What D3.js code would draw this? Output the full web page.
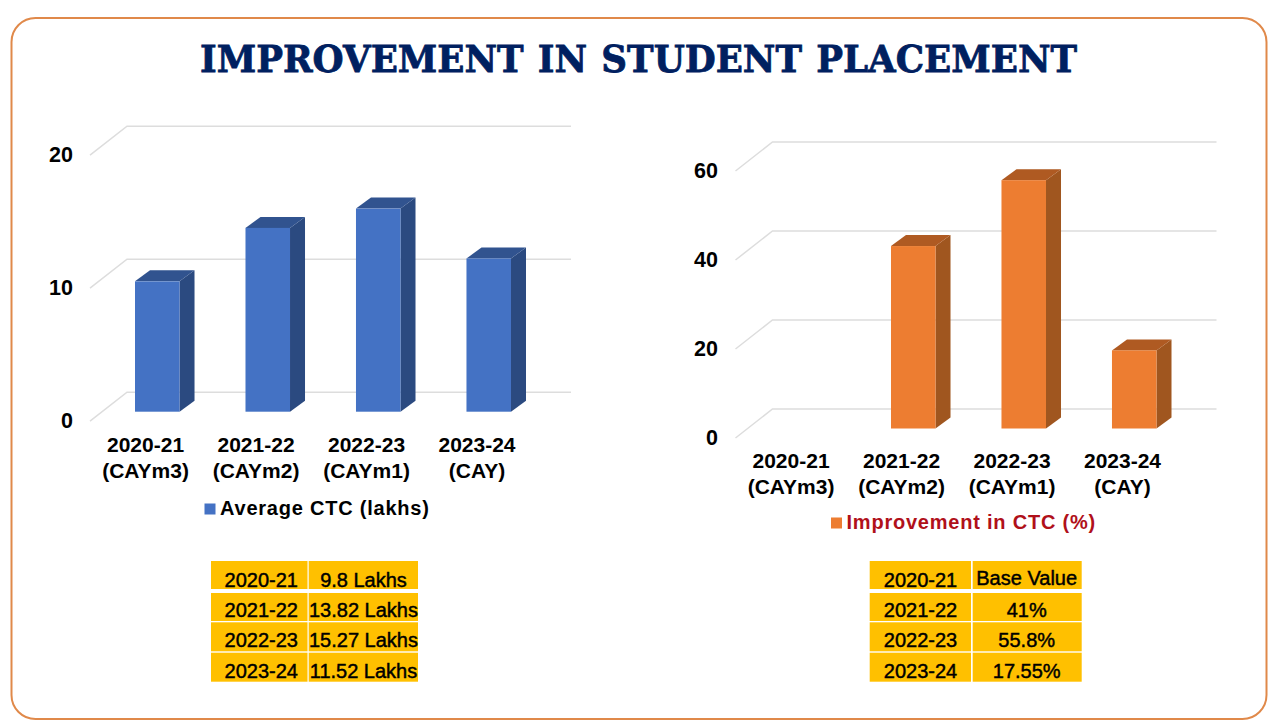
<!DOCTYPE html>
<html><head><meta charset="utf-8">
<script src="https://cdn.jsdelivr.net/npm/d3@7/dist/d3.min.js"></script>
<style>html,body{margin:0;padding:0;background:#fff}svg{display:block}text{font-family:"Liberation Sans",Arial,sans-serif}</style>
</head><body><div id="c"></div>
<script>
const categories=["2020-21","2021-22","2022-23","2023-24"];
const categorySub=["(CAYm3)","(CAYm2)","(CAYm1)","(CAY)"];
const avgCTC=[9.8,13.82,15.27,11.52];
const improvement=[null,41,55.8,17.55];
const leftTicks=[0,10,20];
const rightTicks=[0,20,40,60];
const leftTableValues=["9.8 Lakhs","13.82 Lakhs","15.27 Lakhs","11.52 Lakhs"];
const rightTableValues=["Base Value","41%","55.8%","17.55%"];

const svg=d3.select("#c").append("svg").attr("width",1280).attr("height",720);
svg.append("rect").attr("x",11.5).attr("y",18).attr("width",1255).attr("height",701).attr("rx",24)
  .attr("fill","#fff").attr("stroke","#E0894A").attr("stroke-width",2);
svg.append("text").attr("x",200).attr("y",71.5)
  .attr("textLength",877).attr("lengthAdjust","spacingAndGlyphs")
  .style("font-family","'DejaVu Serif',serif").style("font-weight",700).style("font-size","38px")
  .style("stroke","#002060").style("stroke-width","0.8px").style("word-spacing","2px")
  .attr("fill","#002060").text("IMPROVEMENT IN STUDENT PLACEMENT");

function chart(o){
  const g=svg.append("g");
  const x=d3.scaleBand().domain(categories).range(o.xr).paddingInner(0.597);
  const y=d3.scaleLinear().domain(o.yd).range(o.yr);
  const dBack=[37,-29], dBar=[15,-11];
  const x0=o.xr[0]-45, xEnd=o.xr[1]+60;
  const gl=g.append("g");
  o.ticks.forEach(t=>{
    gl.append("path").attr("fill","none").attr("stroke","#DDDDDD").attr("stroke-width",1.5)
      .attr("d",`M${x0},${y(t)+9.5}L${x0+dBack[0]},${y(t)+9.5+dBack[1]}H${xEnd}`);
  });
  const ax=d3.axisLeft(y).tickValues(o.ticks).tickSize(0).tickPadding(0);
  const ag=g.append("g").attr("transform",`translate(${o.axisX},8.8)`).call(ax);
  ag.select(".domain").remove();
  ag.selectAll("text").style("font-family","'Liberation Sans',Arial,sans-serif").style("font-size","21.5px").style("font-weight",700).attr("fill","#000");
  categories.forEach((c,i)=>{
    const v=o.values[i];
    if(v!=null){
      const l=x(c),w=x.bandwidth(),t=y(v),b=y(0);
      g.append("path").attr("fill",o.side).attr("d",`M${l+w},${t}l${dBar[0]},${dBar[1]}V${b+dBar[1]}L${l+w},${b}Z`);
      g.append("path").attr("fill",o.top).attr("d",`M${l},${t}l${dBar[0]},${dBar[1]}h${w}l${-dBar[0]},${-dBar[1]}Z`);
      g.append("rect").attr("x",l).attr("y",t).attr("width",w).attr("height",b-t).attr("fill",o.color);
    }
    const cx=x(c)+x.bandwidth()/2-11.7;
    const lab=g.append("text").attr("text-anchor","middle").attr("fill","#000")
      .style("font-weight",700).style("font-size","21px");
    lab.append("tspan").attr("x",cx).attr("y",o.catY).text(c);
    lab.append("tspan").attr("x",cx).attr("y",o.catY+26).text(categorySub[i]);
  });
  g.append("rect").attr("x",o.legX).attr("y",o.legY-11.5).attr("width",11).attr("height",11).attr("fill",o.color);
  g.append("text").attr("x",o.legX+15.5).attr("y",o.legY).attr("fill",o.legColor)
    .style("font-weight",700).style("font-size","20px").style("letter-spacing",o.legSp).text(o.legend);
}
chart({xr:[135,511],yd:[0,20],yr:[411.7,145.7],ticks:leftTicks,values:avgCTC,axisX:73,color:"#4472C4",side:"#2B4A80",top:"#31538F",
  catY:452,legX:204.5,legY:515,legend:"Average CTC (lakhs)",legColor:"#000",legSp:"0.78px"});
chart({xr:[780.5,1156.5],yd:[0,60],yr:[428.5,161.5],ticks:rightTicks,values:improvement,axisX:718,color:"#ED7D31",side:"#A0561F",top:"#AF5A22",
  catY:468,legX:831,legY:529,legend:"Improvement in CTC (%)",legColor:"#B0101A",legSp:"0.78px"});

function table(o){
  const colL=o.cols, rowT=[561,593,622.3,652.7], rowB=[589,621,651.3,681.7];
  categories.forEach((c,i)=>{
    [0,1].forEach(k=>{
      svg.append("rect").attr("x",colL[k][0]).attr("y",rowT[i]).attr("width",colL[k][1]-colL[k][0]).attr("height",rowB[i]-rowT[i]).attr("fill","#FFC000");
    });
    const by=[586.5,617.2,647.4,678][i];
    svg.append("text").attr("x",o.c1).attr("y",by).attr("text-anchor","middle").attr("fill","#000")
      .style("font-size","20px").style("stroke","#000").style("stroke-width","0.45px").text(c);
    const t=o.vals[i];
    svg.append("text").attr("x",o.c2).attr("y",by-(t==="Base Value"?1.5:0)).attr("text-anchor","middle").attr("fill","#000")
      .style("font-size","20px").style("stroke","#000").style("stroke-width","0.45px").text(t);
  });
}
table({cols:[[211,307.5],[308.7,418]],c1:261.3,c2:363.5,vals:leftTableValues});
table({cols:[[869.7,971],[972.7,1081.7]],c1:920.5,c2:1026.7,vals:rightTableValues});
</script></body></html>
